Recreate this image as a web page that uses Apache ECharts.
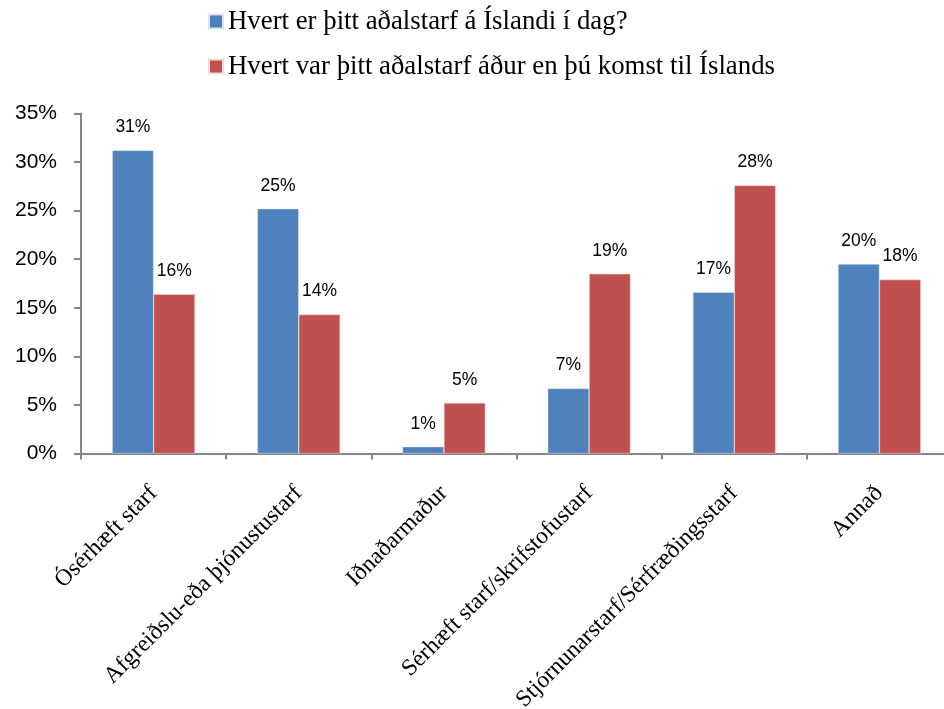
<!DOCTYPE html>
<html>
<head>
<meta charset="utf-8">
<script src="https://cdn.jsdelivr.net/npm/echarts@6/dist/echarts.min.js"></script>
<style>
html, body { margin: 0; padding: 0; background: #fff; }
#chart { width: 944px; height: 709px; }
</style>
</head>
<body>
<div id="chart"></div>
<script>
// gögn
var categories = ['Ósérhæft starf', 'Afgreiðslu-eða þjónustustarf', 'Iðnaðarmaður',
    'Sérhæft starf/skrifstofustarf', 'Stjórnunarstarf/Sérfræðingsstarf', 'Annað'];
var seriesNames = ['Hvert er þitt aðalstarf á Íslandi í dag?',
    'Hvert var þitt aðalstarf áður en þú komst til Íslands'];
var idag = [31.2, 25.2, 0.7, 6.7, 16.6, 19.5];
var adur = [16.4, 14.3, 5.2, 18.5, 27.6, 17.9];
var yTicks = [0, 5, 10, 15, 20, 25, 30, 35];

var chart = echarts.init(document.getElementById('chart'));

function barLabel(){
    return {
        show: true,
        position: 'top',
        distance: 14,
        color: '#000',
        fontFamily: 'Liberation Sans',
        fontSize: 17.5,
        formatter: function(p){ return Math.round(p.value) + '%'; }
    };
}

let option = {
    animation: false,
    legend: {
        orient: 'vertical',
        left: 203,
        top: 3,
        itemWidth: 14,
        itemHeight: 14,
        itemGap: 18,
        icon: 'rect',
        textStyle: {
            fontFamily: 'Liberation Serif',
            fontSize: 26.8,
            color: '#000'
        },
        data: seriesNames
    },
    grid: {
        left: 81,
        top: 113.5,
        width: 871,
        height: 340,
        containLabel: false,
        outerBoundsMode: 'none'
    },
    xAxis: {
        type: 'category',
        data: categories,
        axisLine: { lineStyle: { color: '#868686', width: 2 } },
        axisTick: { show: true, length: 6, lineStyle: { color: '#868686', width: 2 } },
        axisLabel: {
            interval: 0,
            rotate: 45,
            margin: 36,
            color: '#000',
            fontFamily: 'Liberation Serif',
            fontSize: 23.5
        }
    },
    yAxis: {
        type: 'value',
        min: yTicks[0],
        max: yTicks[yTicks.length - 1],
        interval: 5,
        splitLine: { show: false },
        axisLine: { show: true, lineStyle: { color: '#868686', width: 2 } },
        axisTick: { show: true, length: 7, lineStyle: { color: '#868686', width: 2 } },
        axisLabel: {
            margin: 24,
            color: '#000',
            fontFamily: 'Liberation Sans',
            fontSize: 21,
            formatter: '{value}%'
        }
    },
    series: [
        {
            name: seriesNames[0],
            type: 'bar',
            data: idag,
            barGap: '0%',
            barCategoryGap: '43%',
            itemStyle: { color: '#4F81BD', borderColor: '#dbe5f1', borderWidth: 0.5 },
            label: barLabel()
        },
        {
            name: seriesNames[1],
            type: 'bar',
            data: adur,
            itemStyle: { color: '#C0504D', borderColor: '#f2dcdb', borderWidth: 0.5 },
            label: barLabel()
        }
    ]
};

chart.setOption(option);
</script>
</body>
</html>
